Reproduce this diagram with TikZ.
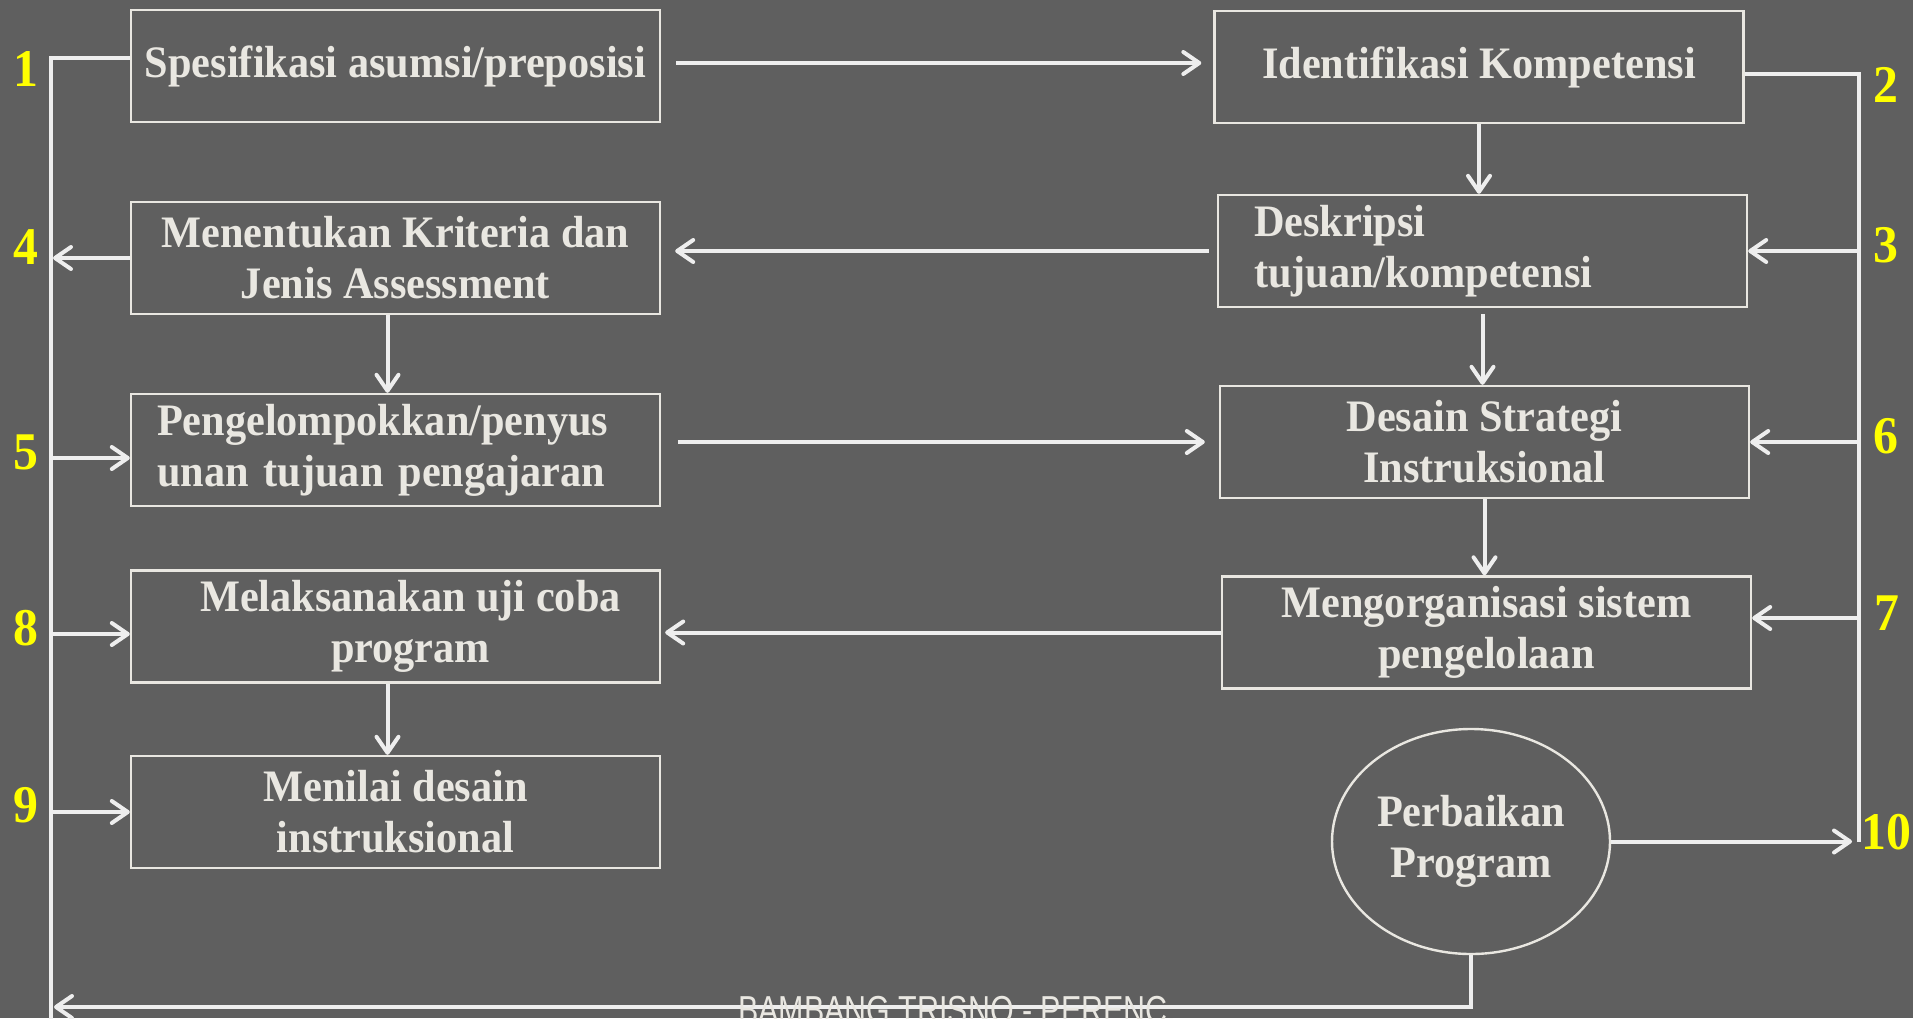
\documentclass[tikz,border=0pt]{standalone}
\usepackage{fontspec}
\setmainfont{Liberation Serif}[FakeStretch=0.94]
\newfontfamily\kakifont{Liberation Sans}[FakeStretch=0.78]
\usetikzlibrary{positioning,shapes.geometric,arrows.meta}
\definecolor{latar}{HTML}{5F5F5F}
\definecolor{garis}{HTML}{EEEEEE}
\definecolor{tulis}{HTML}{E9E7E1}
\definecolor{kuning}{HTML}{FFFF00}
\tikzstyle{blok}=[draw=tulis, line width=1.2pt, minimum height=56pt, minimum width=264.5pt, inner sep=0pt, text=tulis, font=\fontsize{22.5}{25.5}\selectfont\bfseries, align=center]
\tikzstyle{garisan}=[draw=garis, line width=2pt]
\tikzstyle{panah}=[garisan, -{Straight Barb[length=8pt,width=11pt,round]}]
\tikzstyle{nomor}=[text=kuning, inner sep=0pt, font=\fontsize{26.5}{26.5}\selectfont\bfseries]

\begin{document}
\begin{tikzpicture}[x=0.5pt,y=-0.5pt]
\useasboundingbox (0,0) rectangle (1926,1018);
\clip (0,0) rectangle (1926,1018);
\fill[latar] (0,0) rectangle (1913,1018);
\fill[white] (1913,0) rectangle (1926,1018);

% kolom kiri
\node[blok] at (395.5,66) (spes) {Spesifikasi asumsi/preposisi};
\node[blok, below of = spes, node distance = 96pt] (krit) {Menentukan Kriteria dan\\Jenis Assessment};
\node[blok, below of = krit, node distance = 96pt, align=left, inner xsep=13pt, text width=238.5pt] (kelo) {Pengelompokkan/penyus\\unan tujuan pengajaran};
\node[blok, below of = kelo, node distance = 88.25pt] (laks) {\hspace*{15pt}Melaksanakan uji coba\\\hspace*{15pt}program};
\node[blok, below of = laks, node distance = 92.75pt] (nilai) {Menilai desain\\instruksional};

% kolom kanan
\node[blok] at (1479,67) (iden) {Identifikasi Kompetensi};
\node[blok, below of = iden, node distance = 92pt, xshift = 1.75pt, align=left, inner xsep=18pt, text width=228.5pt] (desk) {Deskripsi\\tujuan/kompetensi};
\node[blok, below of = desk, node distance = 95.5pt, xshift = 1pt] (strat) {Desain Strategi\\Instruksional};
\node[blok, below of = strat, node distance = 95.25pt, xshift = 1pt] (org) {Mengorganisasi sistem\\pengelolaan};
\node[blok, ellipse, minimum width=139pt, minimum height=112.5pt] at (1471,841.5) (perb) {Perbaikan\\Program};

\coordinate (Lb) at (51,1030);
\coordinate (Rb) at (1859,842);
\coordinate (Bk) at (54,1007);

% nomor
\node[nomor] at (26,69.5) (n1) {1};
\node[nomor] at (26,247) (n4) {4};
\node[nomor] at (26,452) (n5) {5};
\node[nomor] at (26,628) (n8) {8};
\node[nomor] at (26,805) (n9) {9};
\node[nomor] at (1886,85) (n2) {2};
\node[nomor] at (1886,245) (n3) {3};
\node[nomor] at (1886,436) (n6) {6};
\node[nomor] at (1887,613) (n7) {7};
\node[nomor] at (1886,832) (n10) {10};

% garis samping
\draw[garisan] ([yshift=4pt]spes.west) -| (Lb);
\draw[garisan] ([yshift=-3.5pt]iden.east) -| (Rb);
\draw[panah, shorten >=1pt] (krit.west) -- (krit.west -| Lb);
\draw[panah] ([yshift=-4pt]kelo.west -| Lb) -- ([yshift=-4pt]kelo.west);
\draw[panah] ([yshift=-3.75pt]laks.west -| Lb) -- ([yshift=-3.75pt]laks.west);
\draw[panah] (nilai.west -| Lb) -- (nilai.west);
\draw[panah] (desk.east -| Rb) -- (desk.east);
\draw[panah] (strat.east -| Rb) -- (strat.east);
\draw[panah] ([yshift=7.25pt]org.east -| Rb) -- ([yshift=7.25pt]org.east);
\draw[panah, shorten >=3.5pt] (perb.east) -- (perb.east -| Rb);
\draw[panah] (perb.south) |- (Bk);

% panah tengah
\draw[panah, shorten <=7.5pt, shorten >=6pt] ([yshift=1.5pt]spes.east) -- ([yshift=1.5pt]spes.east -| iden.west);
\draw[panah, shorten <=4pt, shorten >=7pt] (desk.west) -- (desk.west -| krit.east);
\draw[panah, shorten <=8.5pt, shorten >=7pt] (strat.west -| kelo.east) -- (strat.west);
\draw[panah, shorten >=2pt] (org.west) -- (org.west -| laks.east);

% panah turun
\draw[panah] (iden.south) -- (iden.south |- desk.north);
\draw[panah, shorten <=3pt] (desk.south) -- (desk.south |- strat.north);
\draw[panah] (strat.south) -- (strat.south |- org.north);
\draw[panah] ([xshift=-4pt]krit.south) -- ([xshift=-4pt]kelo.north);
\draw[panah] ([xshift=-4pt]laks.south) -- ([xshift=-4pt]nilai.north);

\node[anchor=base west, inner sep=0pt, text=tulis, font=\kakifont\fontsize{19.5}{19.5}\selectfont] at (738,1023) (kaki) {BAMBANG TRISNO - PERENC.};
\end{tikzpicture}
\end{document}
